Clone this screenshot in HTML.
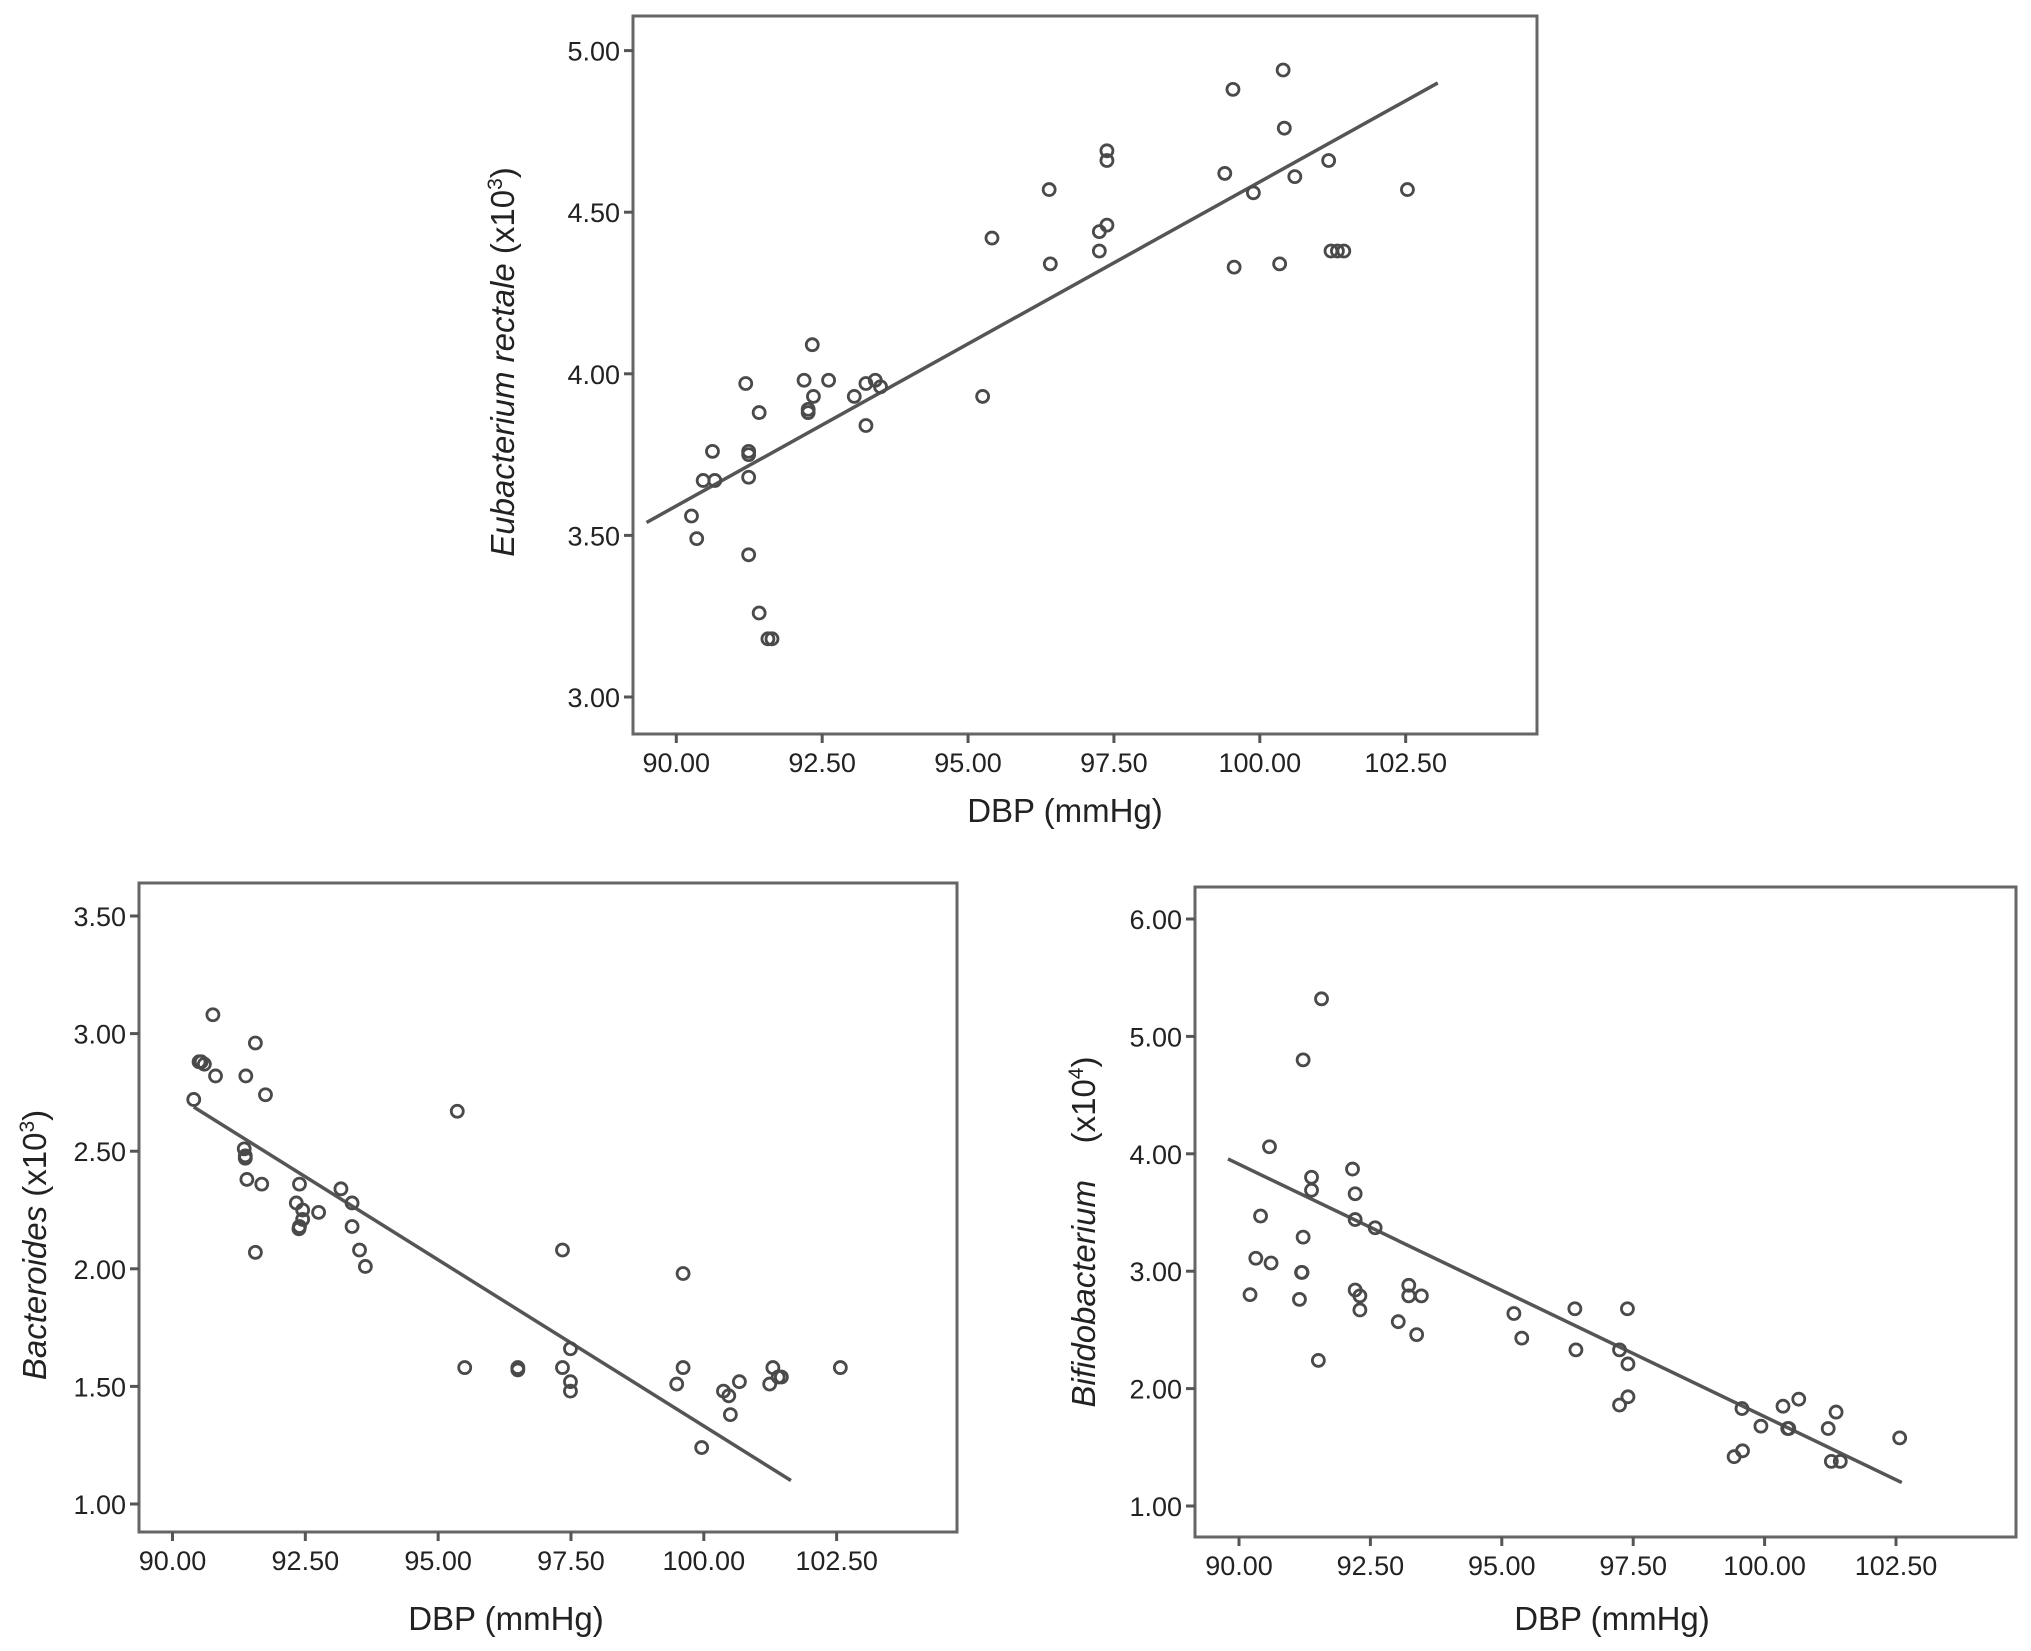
<!DOCTYPE html>
<html><head><meta charset="utf-8"><style>
html,body{margin:0;padding:0;background:#fff;}
svg{display:block;font-family:"Liberation Sans",Arial,sans-serif;}
</style></head><body>
<svg id="fig" width="2031" height="1651" viewBox="0 0 2031 1651" xmlns="http://www.w3.org/2000/svg"></svg>
<script>
// ---- Data: Eubacterium rectale (top) ----
const topX=[90.26,90.35,90.46,90.62,90.66,91.19,91.24,91.24,91.24,91.24,91.42,91.42,91.57,91.64,92.19,92.26,92.26,92.33,92.35,92.61,93.05,93.25,93.25,93.41,93.5,95.25,95.41,96.39,96.41,97.25,97.25,97.38,97.38,97.38,99.4,99.54,99.56,99.89,100.34,100.4,100.42,100.6,101.18,101.22,101.33,101.44,102.53];
const topY=[3.56,3.49,3.67,3.76,3.67,3.97,3.76,3.75,3.68,3.44,3.88,3.26,3.18,3.18,3.98,3.88,3.89,4.09,3.93,3.98,3.93,3.97,3.84,3.98,3.96,3.93,4.42,4.57,4.34,4.44,4.38,4.66,4.69,4.46,4.62,4.88,4.33,4.56,4.34,4.94,4.76,4.61,4.66,4.38,4.38,4.38,4.57];
const topFitX=[89.49,103.05];
const topFitY=[3.54,4.90];
const topYTicks=["3.00","3.50","4.00","4.50","5.00"];
// ---- Data: Bacteroides (bottom-left) ----
const blX=[90.40,90.50,90.54,90.60,90.76,90.81,91.38,91.35,91.37,91.37,91.40,91.56,91.56,91.68,91.75,92.33,92.39,92.39,92.38,92.45,92.45,92.75,93.17,93.38,93.38,93.52,93.63,95.36,95.50,96.50,96.50,97.34,97.34,97.49,97.49,97.49,99.49,99.61,99.61,99.96,100.37,100.47,100.50,100.67,101.24,101.30,101.40,101.46,102.57];
const blY=[2.72,2.88,2.88,2.87,3.08,2.82,2.82,2.51,2.47,2.48,2.38,2.96,2.07,2.36,2.74,2.28,2.36,2.18,2.17,2.25,2.21,2.24,2.34,2.28,2.18,2.08,2.01,2.67,1.58,1.58,1.57,1.58,2.08,1.66,1.52,1.48,1.51,1.98,1.58,1.24,1.48,1.46,1.38,1.52,1.51,1.58,1.54,1.54,1.58];
const blFitX=[90.40,101.64];
const blFitY=[2.688,1.10];
const blYTicks=["1.00","1.50","2.00","2.50","3.00","3.50"];
// ---- Data: Bifidobacterium (bottom-right) ----
const brX=[90.21,90.32,90.41,90.58,90.61,91.15,91.19,91.20,91.22,91.22,91.38,91.38,91.51,91.57,92.16,92.21,92.21,92.21,92.30,92.30,92.59,93.03,93.23,93.23,93.38,93.47,95.23,95.38,96.39,96.41,97.24,97.24,97.39,97.40,97.40,99.42,99.57,99.58,99.93,100.35,100.44,100.46,100.65,101.21,101.27,101.36,101.44,102.57];
const brY=[2.80,3.11,3.47,4.06,3.07,2.76,2.99,2.99,3.29,4.80,3.80,3.69,2.24,5.32,3.87,3.66,3.44,2.84,2.79,2.67,3.37,2.57,2.88,2.79,2.46,2.79,2.64,2.43,2.68,2.33,2.33,1.86,2.68,2.21,1.93,1.42,1.83,1.47,1.68,1.85,1.66,1.66,1.91,1.66,1.38,1.80,1.38,1.58];
const brFitX=[89.79,102.61];
const brFitY=[3.956,1.20];
const brYTicks=["1.00","2.00","3.00","4.00","5.00","6.00"];
const xTicks=["90.00","92.50","95.00","97.50","100.00","102.50"];

const NS="http://www.w3.org/2000/svg";
const svg=document.getElementById('fig');
function mk(tag,attrs,parent){const e=document.createElementNS(NS,tag);for(const k in attrs)e.setAttribute(k,attrs[k]);(parent||svg).appendChild(e);return e;}

function chart(cfg,X,Y,FX,FY,yTicks){
  const g=mk('g',{});
  
  
  const sx=v=>cfg.x0+(v-90)*cfg.kx;
  const sy=v=>cfg.y0-(v-cfg.yBase)*cfg.ky;
  const fr=mk('rect',{x:cfg.L,y:cfg.T,width:cfg.R-cfg.L,height:cfg.B-cfg.T,fill:'none',stroke:'#666','stroke-width':3},g);
  
  
  yTicks.forEach(t=>{
    const y=sy(parseFloat(t));
    const tl=mk('line',{x1:cfg.L-9,x2:cfg.L,y1:y,y2:y,stroke:'#555','stroke-width':3},g);
    
    
    const tx=mk('text',{x:cfg.L-13,y:y+10,'text-anchor':'end','font-size':27,fill:'#222'},g);
    tx.textContent=t;
    
    
  });
  xTicks.forEach(t=>{
    const x=sx(parseFloat(t));
    const tl=mk('line',{x1:x,x2:x,y1:cfg.B,y2:cfg.B+9,stroke:'#555','stroke-width':3},g);
    
    
    const tx=mk('text',{x:x,y:cfg.B+38,'text-anchor':'middle','font-size':27,fill:'#222'},g);
    tx.textContent=t;
    
    
  });
  const fl=mk('line',{x1:sx(FX[0]),y1:sy(FY[0]),x2:sx(FX[1]),y2:sy(FY[1]),stroke:'#555','stroke-width':3.5},g);
  
  
  X.forEach((v,i)=>{
    const c=mk('circle',{cx:sx(v),cy:sy(Y[i]),r:6,fill:'none',stroke:'#4a4a4a','stroke-width':2.8},g);
    
    
  });
  const xt=mk('text',{x:cfg.xtX,y:cfg.xtY,'text-anchor':'middle','font-size':33,fill:'#222'},g);
  xt.textContent='DBP (mmHg)';
  
  
  const yt=mk('text',{x:0,y:0,'text-anchor':'middle','font-size':33,fill:'#222',transform:`translate(${cfg.ytX},${cfg.ytY}) rotate(-90)`},g);
  yt.style.whiteSpace='pre';
  
  
  const it=mk('tspan',{'font-style':'italic'},yt); it.textContent=cfg.genus;
  const t2=mk('tspan',{},yt); t2.textContent=cfg.gap+'(x10';
  const sp=mk('tspan',{'font-size':21,dy:-12},yt); sp.textContent=cfg.exp;
  const t3=mk('tspan',{dy:12},yt); t3.textContent=')';
}

chart({name:'eubacterium-chart',L:633,R:1537,T:16,B:734,x0:676.3,kx:58.35,y0:697,yBase:3,ky:323.2,xtX:1065,xtY:822,ytX:514,ytY:362,genus:'Eubacterium rectale',gap:' ',exp:'3'},topX,topY,topFitX,topFitY,topYTicks);
chart({name:'bacteroides-chart',L:139,R:957,T:883,B:1532,x0:172.5,kx:53.13,y0:1504,yBase:1,ky:235.2,xtX:506,xtY:1630,ytX:46,ytY:1245,genus:'Bacteroides',gap:' ',exp:'3'},blX,blY,blFitX,blFitY,blYTicks);
chart({name:'bifidobacterium-chart',L:1195,R:2016,T:887,B:1537,x0:1239,kx:52.56,y0:1506,yBase:1,ky:117.4,xtX:1612,xtY:1630,ytX:1095,ytY:1232,genus:'Bifidobacterium',gap:'    ',exp:'4'},brX,brY,brFitX,brFitY,brYTicks);
</script>
</body></html>
